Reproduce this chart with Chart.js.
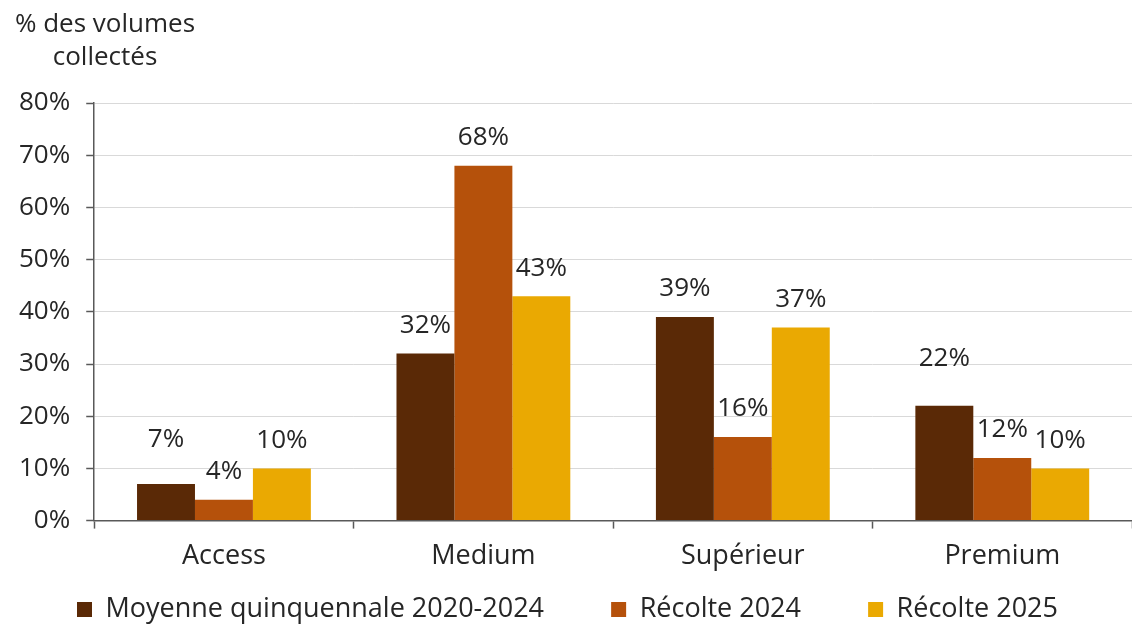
<!DOCTYPE html>
<html>
<head>
<meta charset="utf-8">
<script src="https://cdn.jsdelivr.net/npm/chart.js@4"></script>
<style>
  html, body { margin: 0; padding: 0; background: #fff; }
</style>
</head>
<body>
<canvas id="myChart" width="1132" height="628"></canvas>
<script>
const categories = ['Access', 'Medium', 'Supérieur', 'Premium'];
const moyenne = [7, 32, 39, 22];
const recolte2024 = [4, 68, 16, 12];
const recolte2025 = [10, 43, 37, 10];
const seriesNames = ['Moyenne quinquennale 2020-2024', 'Récolte 2024', 'Récolte 2025'];
const yTicks = [0, 10, 20, 30, 40, 50, 60, 70, 80];

const FONT = '"Open Sans", "DejaVu Sans", sans-serif';
const FS = 26;
const TEXT = '#262626';
const AXIS = '#595959';

// etiquettes au-dessus des barres (quelques-unes déplacées à la main comme sur l'original)
const labelNudge = { '0-0': 16, '0-3': 19 };

const barLabels = {
  id: 'barLabels',
  afterDatasetsDraw(chart) {
    const ctx = chart.ctx;
    ctx.save();
    ctx.font = FS + 'px ' + FONT;
    ctx.fillStyle = TEXT;
    ctx.textAlign = 'center';
    ctx.textBaseline = 'middle';
    chart.data.datasets.forEach((ds, i) => {
      chart.getDatasetMeta(i).data.forEach((bar, j) => {
        const extra = labelNudge[i + '-' + j] || 0;
        ctx.fillText(ds.data[j] + '%', bar.x, bar.y - 28 - extra);
      });
    });
    ctx.restore();
  }
};

const axisTitle = {
  id: 'axisTitle',
  afterDraw(chart) {
    const ctx = chart.ctx;
    ctx.save();
    ctx.font = FS + 'px ' + FONT;
    ctx.fillStyle = TEXT;
    ctx.textAlign = 'center';
    ctx.textBaseline = 'middle';
    ctx.fillText('% des volumes', 105, 25);
    ctx.fillText('collectés', 105, 58);
    ctx.restore();
  }
};

const data = {
  labels: categories,
  datasets: [
    { label: seriesNames[0], data: moyenne, backgroundColor: '#5a2906' },
    { label: seriesNames[1], data: recolte2024, backgroundColor: '#b5510b' },
    { label: seriesNames[2], data: recolte2025, backgroundColor: '#eaa902' }
  ]
};

const config = {
  type: 'bar',
  data: data,
  options: {
    responsive: false,
    animation: false,
    datasets: {
      bar: { barPercentage: 1, categoryPercentage: 0.67 }
    },
    layout: { padding: { top: 103, right: 0, left: 3, bottom: -5 } },
    plugins: {
      legend: {
        position: 'bottom',
        labels: {
          font: { family: FONT, size: 27 },
          color: TEXT,
          boxWidth: 15,
          boxHeight: 15,
          padding: 11,
          // espacement large entre les entrées, comme sur l'original
          generateLabels(chart) {
            const items = Chart.defaults.plugins.legend.labels.generateLabels(chart);
            items.forEach((it, k) => {
              if (k < items.length - 1) it.text = it.text + '        ';
            });
            return items;
          }
        }
      },
      tooltip: { enabled: false }
    },
    scales: {
      x: {
        grid: { display: true, drawOnChartArea: false, drawTicks: true, tickLength: 8, tickColor: AXIS, tickWidth: 1.5 },
        border: { color: AXIS, width: 1.5 },
        ticks: { font: { family: FONT, size: 27 }, color: TEXT, padding: 12 }
      },
      y: {
        min: 0,
        max: 80,
        afterBuildTicks(axis) { axis.ticks = yTicks.map(v => ({ value: v })); },
        grid: { color: '#d9d9d9', lineWidth: 1, tickLength: 8, tickColor: AXIS, tickWidth: 1.5 },
        border: { color: AXIS, width: 1.5 },
        ticks: {
          font: { family: FONT, size: FS },
          color: TEXT,
          padding: 16,
          callback: v => v + '%'
        }
      }
    }
  },
  plugins: [barLabels, axisTitle]
};

var myChart = new Chart(document.getElementById('myChart'), config);
</script>
</body>
</html>
